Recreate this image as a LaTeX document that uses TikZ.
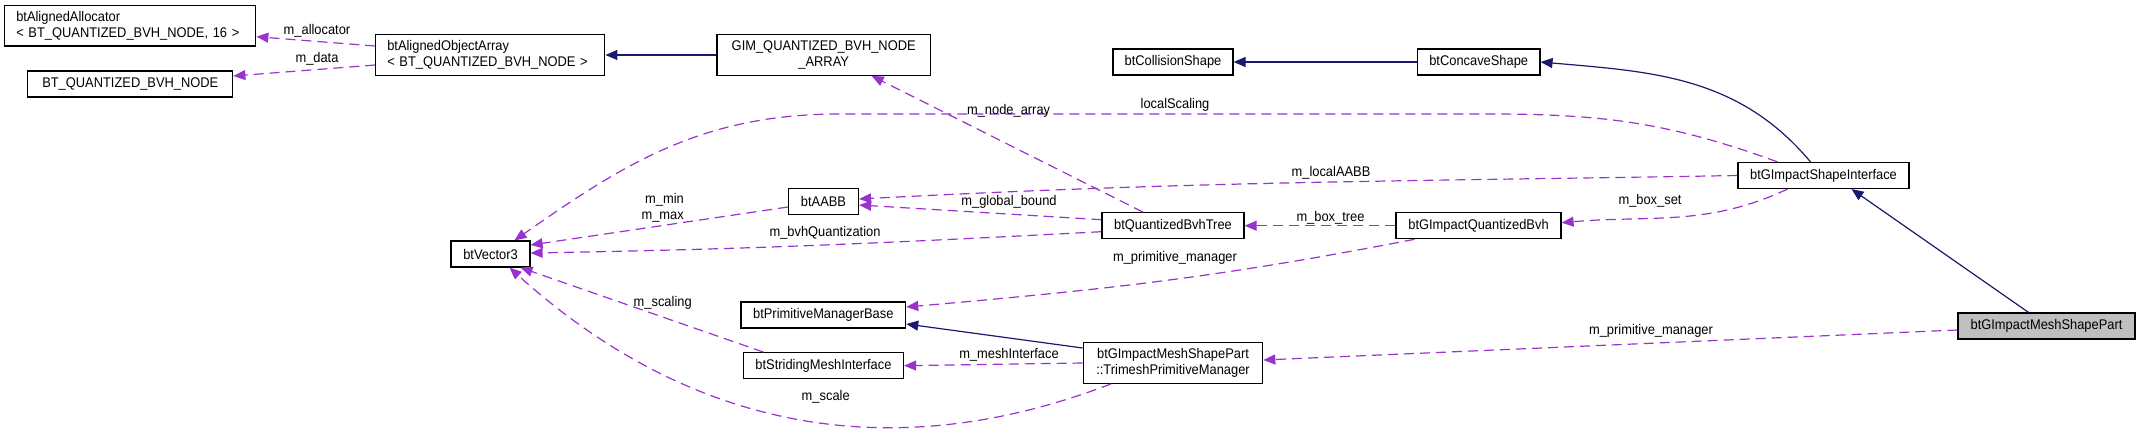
\documentclass[tikz,border=0pt]{standalone}
\usepackage{fontspec}
\setmainfont{Liberation Sans}[FakeStretch=0.92]
\usetikzlibrary{arrows.meta}

\definecolor{refcol}{HTML}{9A32CD}
\definecolor{inhcol}{HTML}{191970}

\begin{document}
\begin{tikzpicture}[x=0.5pt,y=-0.5pt,
  font=\fontsize{7}{7.9}\selectfont,
  box/.style={draw,line width=0.6pt,inner sep=0pt,minimum height=13pt,align=center},
  boxl/.style={box,align=left,minimum height=20.3pt},
  ref/.style={draw=refcol,line width=0.6pt,dash pattern=on 5pt off 3pt,-{Triangle[length=6pt,width=5pt]}},
  inh/.style={draw=inhcol,line width=0.6pt,-{Triangle[length=6pt,width=5pt]}},
  lbl/.style={inner sep=0pt,text=black}]
  \useasboundingbox (0,0) rectangle (2140,430);

  \node[boxl,minimum width=125.5pt,text width=114pt] (alloc) at (130.3,25.7) {btAlignedAllocator\\< BT\_QUANTIZED\_BVH\_NODE, 16 >};
  \node[box,minimum width=102.5pt] (bvhnode) at (130.3,84) {BT\_QUANTIZED\_BVH\_NODE};
  \node[boxl,minimum width=114.5pt,text width=103pt] (objarr) at (490.3,55) {btAlignedObjectArray\\< BT\_QUANTIZED\_BVH\_NODE >};
  \node[box,minimum width=106.75pt,minimum height=20.3pt] (gimarr) at (823.7,55) {GIM\_QUANTIZED\_BVH\_NODE\\\_ARRAY};
  \node[box,minimum width=60pt] (colshape) at (1173,62) {btCollisionShape};
  \node[box,minimum width=61.25pt] (concave) at (1478.7,62) {btConcaveShape};
  \node[box,minimum width=85.5pt] (shapeif) at (1823.5,175.5) {btGImpactShapeInterface};
  \node[box,minimum width=39.5pt] (vec3) at (490.5,254) {btVector3};
  \node[box,minimum width=35pt] (aabb) at (823.5,201.5) {btAABB};
  \node[box,minimum width=71pt] (qbvhtree) at (1173,225.7) {btQuantizedBvhTree};
  \node[box,minimum width=82.5pt] (gqbvh) at (1478.5,225.7) {btGImpactQuantizedBvh};
  \node[box,minimum width=82.35pt] (primbase) at (823.3,315) {btPrimitiveManagerBase};
  \node[box,minimum width=80pt] (strimesh) at (823.5,365.7) {btStridingMeshInterface};
  \node[box,minimum width=89.75pt,minimum height=20.3pt] (trimgr) at (1173,363) {btGImpactMeshShapePart\\::TrimeshPrimitiveManager};
  \node[box,fill=black!25,minimum width=88.5pt] (meshpart) at (2046.5,326) {btGImpactMeshShapePart};

  \draw[inh] (gimarr.west) -- (objarr.east);
  \draw[inh] (concave.west) -- (colshape.east);
  \draw[inh] ([xshift=-6.5pt]shapeif.north) to[out=130,in=-5] (concave.east);
  \draw[inh] ([xshift=-9pt]meshpart.north) -- ([xshift=14pt]shapeif.south);
  \draw[inh] ([yshift=7.5pt]trimgr.west) -- ([yshift=-4.5pt]primbase.east);

  \draw[ref] ([yshift=4.5pt]objarr.west) -- ([yshift=-5.5pt]alloc.east);
  \draw[ref] ([yshift=-5pt]objarr.west) -- ([yshift=4pt]bvhnode.east);
  \draw[ref] ([xshift=-23pt]shapeif.north) to[out=160,in=0] (1490,114) -- (840,114) to[out=180,in=35] ([xshift=12pt]vec3.north);
  \draw[ref] (shapeif.west) to[out=181,in=3] ([yshift=1.25pt]aabb.east);
  \draw[ref] ([yshift=3pt]qbvhtree.west) -- ([yshift=-1.75pt]aabb.east);
  \draw[ref] ([xshift=-15pt]qbvhtree.north) -- ([xshift=24pt]gimarr.south);
  \draw[ref] ([yshift=-2.75pt]aabb.west) -- ([yshift=4.5pt]vec3.east);
  \draw[ref] ([yshift=-3pt]qbvhtree.west) to[out=183,in=1] ([yshift=0.5pt]vec3.east);
  \draw[ref] (gqbvh.west) -- (qbvhtree.east);
  \draw[ref] ([xshift=-18pt]shapeif.south) to[out=205,in=5] ([yshift=1.5pt]gqbvh.east);
  \draw[ref] ([xshift=-32pt]gqbvh.south) to[out=191,in=5] ([yshift=4pt]primbase.east);
  \draw[ref] (trimgr.west) -- (strimesh.east);
  \draw[ref] ([xshift=-30pt]strimesh.north) -- ([xshift=15pt]vec3.south);
  \draw[ref] ([xshift=-31pt]trimgr.south) to[out=201,in=-42] ([xshift=9.5pt]vec3.south);
  \draw[ref] ([yshift=-2pt]meshpart.west) -- ([yshift=1.5pt]trimgr.east);

  \node[lbl] (lalloc) at (317,31) {m\_allocator};
  \node[lbl] (ldata) at (317,59) {m\_data};
  \node[lbl] (lscaling) at (1175,105) {localScaling};
  \node[lbl] (llocal) at (1331,173) {m\_localAABB};
  \node[lbl] (lglobal) at (1009,202) {m\_global\_bound};
  \node[lbl] (lnodearr) at (1008.6,111) {m\_node\_array};
  \node[lbl,align=right] (lminmax) at (662.7,207.5) {m\_min\\m\_max};
  \node[lbl] (lquant) at (825,233) {m\_bvhQuantization};
  \node[lbl] (lboxtree) at (1330.5,218) {m\_box\_tree};
  \node[lbl] (lboxset) at (1650,201) {m\_box\_set};
  \node[lbl] (lprimup) at (1175,258) {m\_primitive\_manager};
  \node[lbl] (lmesh) at (1009,355) {m\_meshInterface};
  \node[lbl] (lscal) at (662.7,303) {m\_scaling};
  \node[lbl] (lscale) at (825.7,397) {m\_scale};
  \node[lbl] (lprimlow) at (1651,331) {m\_primitive\_manager};
\end{tikzpicture}
\end{document}
